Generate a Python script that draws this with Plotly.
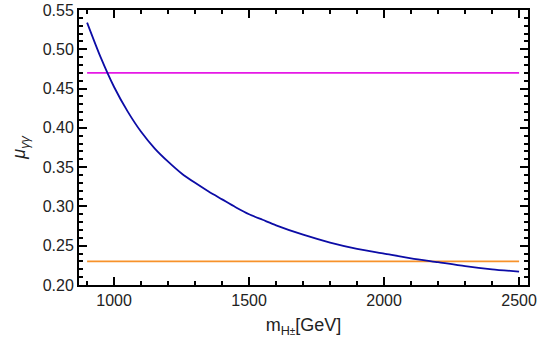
import plotly.graph_objects as go

# Data
mass = [900, 950, 1000, 1050, 1100, 1150, 1200, 1250, 1300, 1350, 1400, 1450,
        1500, 1550, 1600, 1700, 1800, 1900, 2000, 2100, 2200, 2300, 2400, 2500]
mu_gg = [0.534, 0.490, 0.452, 0.421, 0.395, 0.374, 0.357, 0.342, 0.330, 0.319,
         0.309, 0.299, 0.290, 0.283, 0.276, 0.264, 0.254, 0.246, 0.240, 0.234,
         0.229, 0.224, 0.220, 0.217]
line_x = [900, 2500]
upper_bound = [0.470, 0.470]
lower_bound = [0.230, 0.230]
x_range = [870, 2533]
y_range = [0.20, 0.55]

fig = go.Figure()
fig.add_trace(go.Scatter(x=line_x, y=upper_bound, mode="lines",
                         line=dict(color="#e619e6", width=1.6), showlegend=False))
fig.add_trace(go.Scatter(x=line_x, y=lower_bound, mode="lines",
                         line=dict(color="#f7922b", width=1.8), showlegend=False))
fig.add_trace(go.Scatter(x=mass, y=mu_gg, mode="lines",
                         line=dict(color="#0c0ca6", width=1.8, shape="spline", smoothing=0.7),
                         showlegend=False))

font = dict(family="Liberation Sans, Arial", size=16, color="#222")

fig.update_layout(
    width=540, height=347, margin=dict(l=79, r=12, t=10, b=62),
    plot_bgcolor="white", paper_bgcolor="white",
    xaxis=dict(range=x_range, tickmode="linear", tick0=1000, dtick=500,
               showline=True, linecolor="black", linewidth=2, mirror=True,
               ticks="inside", ticklen=8, tickwidth=2, tickcolor="black",
               minor=dict(ticks="inside", tickmode="linear", dtick=100,
                          ticklen=4, tickwidth=1.5, tickcolor="black"),
               showgrid=False, zeroline=False, automargin=False, tickfont=font,
               title=dict(text="m<sub>H<span style='font-size:10px'>±</span></sub>[GeV]",
                          font=dict(family="Liberation Sans, Arial", size=18, color="#222"),
                          standoff=10)),
    yaxis=dict(range=y_range, tickmode="linear", tick0=0.2, dtick=0.05, tickformat=".2f",
               showline=True, linecolor="black", linewidth=2, mirror=True,
               ticks="inside", ticklen=8, tickwidth=2, tickcolor="black",
               minor=dict(ticks="inside", tickmode="linear", dtick=0.01,
                          ticklen=4, tickwidth=1.5, tickcolor="black"),
               showgrid=False, zeroline=False, automargin=False, tickfont=font,
               title=dict(text="<i>μ</i><sub><i>γγ</i></sub>",
                          font=dict(family="Liberation Sans, Arial", size=18, color="#222"),
                          standoff=12)),
    # mirrored ticks on top and right via overlaid axes
    xaxis2=dict(range=x_range, overlaying="x", side="top", anchor="y",
                tickmode="linear", tick0=1000, dtick=500,
                ticks="inside", ticklen=8, tickwidth=2, tickcolor="black",
                minor=dict(ticks="inside", tickmode="linear", dtick=100,
                           ticklen=4, tickwidth=1.5, tickcolor="black"),
                showticklabels=False, showgrid=False, zeroline=False, showline=False),
    yaxis2=dict(range=y_range, overlaying="y", side="right", anchor="x",
                tickmode="linear", tick0=0.2, dtick=0.05,
                ticks="inside", ticklen=8, tickwidth=2, tickcolor="black",
                minor=dict(ticks="inside", tickmode="linear", dtick=0.01,
                           ticklen=4, tickwidth=1.5, tickcolor="black"),
                showticklabels=False, showgrid=False, zeroline=False, showline=False),
)
fig.add_trace(go.Scatter(x=[None], y=[None], xaxis="x2", yaxis="y2", showlegend=False,
                         hoverinfo="skip"))

fig.write_html("out.html", config={"displayModeBar": False},
               post_script="document.body.style.margin='0px';")
